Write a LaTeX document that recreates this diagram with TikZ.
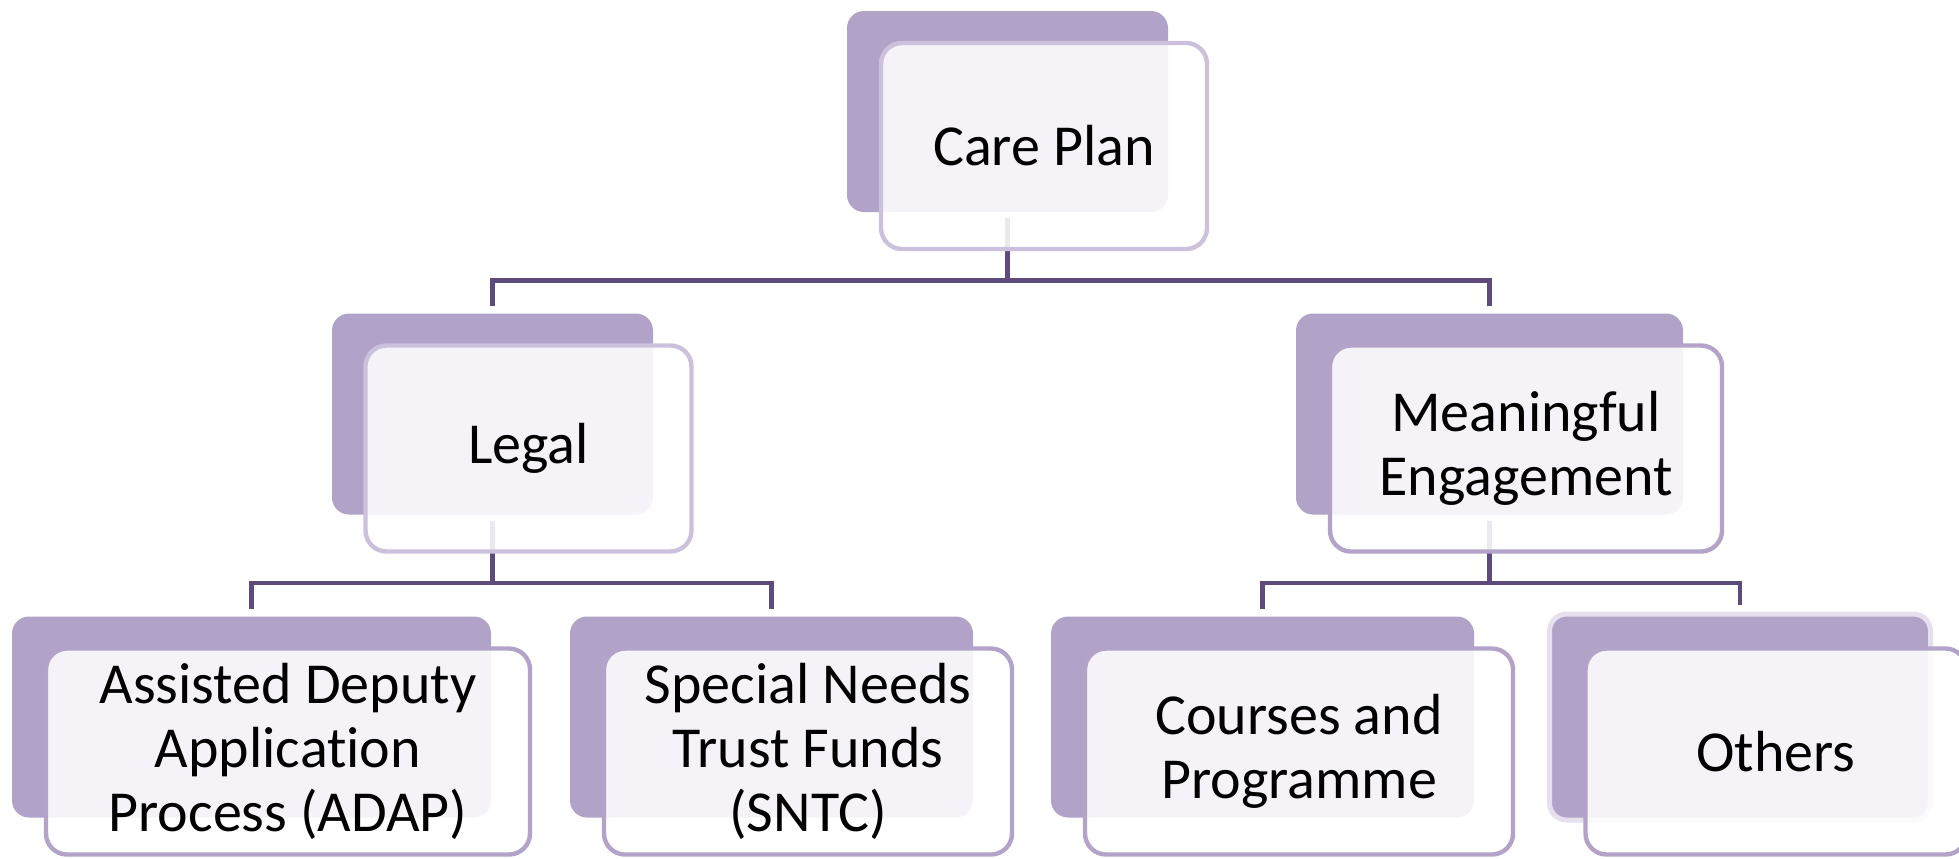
\documentclass[tikz,border=0pt]{standalone}
\usepackage{fontspec}
\setmainfont{Carlito}[Ligatures=NoCommon]
\definecolor{backc}{HTML}{B1A2C7}
\definecolor{edgel}{HTML}{CCC1DD}
\definecolor{edged}{HTML}{B3A3C9}
\definecolor{connc}{HTML}{5F4B7B}
\definecolor{glow}{HTML}{E6E0EE}
\tikzset{
  backbox/.style={fill=backc, rounded corners=8.5pt, inner sep=0pt, minimum height=100.5pt},
  frontbox/.style={fill=white, fill opacity=0.88, text opacity=1, draw=edged, line width=2.2pt,
    rounded corners=10.5pt, inner sep=0pt, minimum height=103pt, align=center,
    font=\fontsize{29pt}{32pt}\selectfont},
  conn/.style={draw=connc, line width=2.3pt, shorten <=3pt, shorten >=3.5pt},
}
\begin{document}
\begin{tikzpicture}[x=0.5pt,y=-0.5pt]
\useasboundingbox (0,0) rectangle (1959,858);
% back rectangles
\node[backbox, minimum width=160.5pt] (cpb) at (1007.5,111.5) {};
\node[backbox, minimum width=160.5pt] (legb) at (492.5,414) {};
\node[backbox, minimum width=193.5pt] (meb) at (1489.5,414) {};
\node[backbox, minimum width=239.5pt] (adapb) at (251.5,717) {};
\node[backbox, minimum width=201.5pt] (sntcb) at (771.5,717) {};
\node[backbox, minimum width=211.5pt] (crsb) at (1262.5,717) {};
\node[backbox, minimum width=190.5pt, minimum height=103pt, draw=glow, line width=2.5pt] (othb) at (1740,717) {};
% connectors
\draw[conn] (cpb.south) -- ++(0,68) -| (legb.north);
\draw[conn] (cpb.south) -- ++(0,68) -| (meb.north);
\draw[conn] (legb.south) -- ++(0,68) -| (adapb.north);
\draw[conn] (legb.south) -- ++(0,68) -| (sntcb.north);
\draw[conn] (meb.south) -- ++(0,68) -| (crsb.north);
\draw[conn] (meb.south) -- ++(0,68) -| (othb.north);
% front rectangles
\node[frontbox, draw=edgel, minimum width=163pt] (cp) at (1044,146) {Care Plan};
\node[frontbox, draw=edgel, minimum width=163pt] (leg) at (528.5,448.5) {Legal};
\node[frontbox, minimum width=196pt] (me) at (1526,448.5) {Meaningful\\Engagement};
\node[frontbox, minimum width=242pt] (adap) at (288,751.5) {Assisted Deputy\\Application\\Process (ADAP)};
\node[frontbox, minimum width=204pt] (sntc) at (808,751.5) {Special Needs\\Trust Funds\\(SNTC)};
\node[frontbox, minimum width=214pt] (crs) at (1299,751.5) {Courses and\\Programme};
\node[frontbox, minimum width=190.5pt] (oth) at (1776,751.5) {Others};
\end{tikzpicture}
\end{document}
